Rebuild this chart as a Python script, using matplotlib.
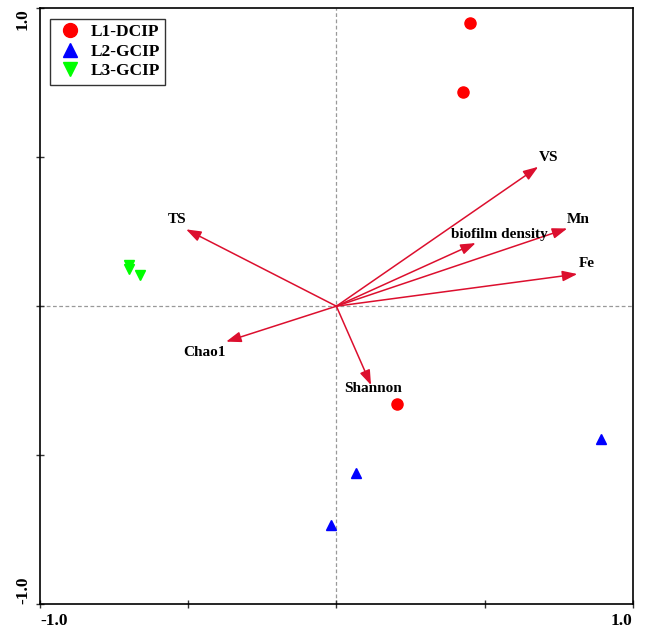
import numpy as np
import matplotlib.pyplot as plt

plt.rcParams["font.family"] = ["Liberation Serif", "DejaVu Serif"]
plt.rcParams["font.weight"] = "bold"

# sample scores
l1_x = [0.452, 0.428, 0.206]
l1_y = [0.950, 0.718, -0.329]
l2_x = [0.894, 0.067, -0.017]
l2_y = [-0.446, -0.560, -0.735]
l3_x = [-0.701, -0.701, -0.662]
l3_y = [0.138, 0.126, 0.105]

# environmental arrows
env_names = ["TS", "Chao1", "Shannon", "VS", "biofilm density", "Mn", "Fe"]
env_x = [-0.507, -0.372, 0.117, 0.681, 0.470, 0.779, 0.813]
env_y = [0.258, -0.119, -0.265, 0.468, 0.212, 0.261, 0.108]
# label anchors
lab_x = [-0.537, -0.445, 0.125, 0.715, 0.550, 0.815, 0.845]
lab_y = [0.290, -0.155, -0.275, 0.500, 0.242, 0.292, 0.142]

arrow_col = "#dc0f2e"

fig = plt.figure(figsize=(6.45, 6.29), dpi=100)
ax = fig.add_axes([0.062, 0.0397, 0.919, 0.947])

ax.axhline(0, color="#999999", ls="--", lw=0.9, dashes=(3, 2), zorder=1)
ax.axvline(0, color="#999999", ls="--", lw=0.9, dashes=(3, 2), zorder=1)

for ex, ey in zip(env_x, env_y):
    ax.annotate("", xy=(ex, ey), xytext=(0, 0),
                arrowprops=dict(arrowstyle="-|>,head_length=0.9,head_width=0.32",
                                color=arrow_col, lw=1.1,
                                shrinkA=0, shrinkB=0), zorder=2)
for name, tx, ty in zip(env_names, lab_x, lab_y):
    ax.text(tx, ty, name, ha="center", va="center", fontsize=11,
            fontweight="bold", zorder=3)

ax.plot(l1_x, l1_y, "o", color="#ff0000", ms=8, ls="none", label="L1-DCIP", zorder=4)
ax.plot(l2_x, l2_y, "^", color="#0000ff", ms=7.5, ls="none", label="L2-GCIP", zorder=4)
ax.plot(l3_x, l3_y, "v", color="#00ff00", ms=7.5, ls="none", label="L3-GCIP", zorder=4)

ax.set_xlim(-1, 1)
ax.set_ylim(-1, 1)
ax.set_xticks([-1, -0.5, 0, 0.5, 1])
ax.set_yticks([-1, -0.5, 0, 0.5, 1])
ax.set_xticklabels(["-1.0", "", "", "", "1.0"])
ax.set_yticklabels(["-1.0", "", "", "", "1.0"], rotation=90, va="center")
xl = ax.get_xticklabels()
xl[0].set_ha("left")
xl[-1].set_ha("right")
yl = ax.get_yticklabels()
yl[0].set_va("bottom")
yl[-1].set_va("top")
ax.tick_params(direction="inout", length=6, width=1, color="#333333",
               labelsize=12.5)
for lab in xl + yl:
    lab.set_fontweight("bold")
for s in ax.spines.values():
    s.set_linewidth(1.2)

leg = ax.legend(loc="upper left", frameon=True, fancybox=False,
                edgecolor="black", borderaxespad=0.6, handletextpad=0.3,
                labelspacing=0.2, markerscale=1.25, borderpad=0.3,
                handlelength=1.7, prop={"weight": "bold", "size": 12.5})
leg.get_frame().set_linewidth(1.0)

fig.savefig("out.png", dpi=100)
